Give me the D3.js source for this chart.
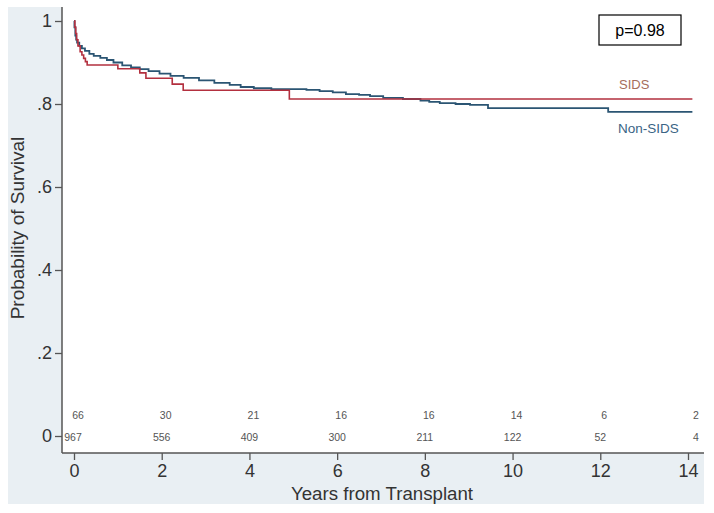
<!DOCTYPE html>
<html><head><meta charset="utf-8">
<script src="https://cdn.jsdelivr.net/npm/d3@7"></script>
<style>body{margin:0;background:#fff}svg{display:block}text{font-family:"Liberation Sans",Arial,sans-serif}</style>
</head><body><svg id="c" width="714" height="513"></svg>
<script>
// Kaplan-Meier step data (time in years, survival probability)
const nonSidsTime = [0,0.01,0.03,0.05,0.07,0.12,0.18,0.25,0.35,0.45,0.6,0.75,0.9,1.1,1.3,1.5,1.7,1.95,2.2,2.5,2.85,3.2,3.55,3.8,4.1,4.5,5.3,5.6,5.9,6.2,6.5,6.75,7.05,7.5,7.9,8.1,8.34,8.7,9.03,9.44,12.18,14.1];
const nonSidsSurv = [1,0.985,0.965,0.955,0.948,0.94,0.934,0.928,0.921,0.916,0.911,0.906,0.9,0.893,0.888,0.884,0.879,0.873,0.868,0.863,0.857,0.851,0.846,0.841,0.838,0.836,0.834,0.831,0.828,0.824,0.822,0.819,0.815,0.812,0.808,0.805,0.802,0.8,0.798,0.79,0.781,0.781];
const sidsTime = [0,0.02,0.04,0.06,0.09,0.14,0.18,0.22,0.26,0.30,1.0,1.5,1.64,2.24,2.49,4.91,14.1];
const sidsSurv = [1,0.985,0.97,0.955,0.94,0.926,0.918,0.91,0.902,0.894,0.885,0.875,0.862,0.848,0.833,0.812,0.812];
const xTicks = [0,2,4,6,8,10,12,14];
const yTicks = [0,0.2,0.4,0.6,0.8,1];
const riskTimes = [0,2,4,6,8,10,12,14];
const riskSids = [66,30,21,16,16,14,6,2];
const riskNonSids = [967,556,409,300,211,122,52,4];

const svg = d3.select("#c");
const x = d3.scaleLinear().domain([0,14]).range([74,688]);
const y = d3.scaleLinear().domain([0,1]).range([436,21]);
const pLeft = 62, pRight = 704, pTop = 7, pBottom = 453;

svg.append("rect").attr("x",8).attr("y",7).attr("width",696).attr("height",497).attr("fill","#e9eff3");
svg.append("rect").attr("x",pLeft).attr("y",pTop).attr("width",pRight-pLeft).attr("height",pBottom-pTop).attr("fill","#fff");

const fmt = d => d===0 ? "0" : d===1 ? "1" : d3.format(".1f")(d).replace(/^0/,"");
const ya = svg.append("g").attr("transform",`translate(${pLeft},0)`)
  .call(d3.axisLeft(y).tickValues(yTicks).tickFormat(fmt).tickSize(7).tickPadding(3).tickSizeOuter(0));
ya.select(".domain").attr("d",`M0,${pTop}V${pBottom}`);
const xa = svg.append("g").attr("transform",`translate(0,${pBottom})`)
  .call(d3.axisBottom(x).tickValues(xTicks).tickSize(7).tickPadding(4).tickSizeOuter(0));
xa.select(".domain").attr("d",`M${pLeft},0H${pRight}`);
[ya,xa].forEach(g=>{
  g.select(".domain").attr("stroke","#555").attr("stroke-width",1.5);
  g.selectAll(".tick line").attr("stroke","#555").attr("stroke-width",1.3);
  g.selectAll(".tick text").attr("fill","#333").style("font-size","18px").style("font-family","'Liberation Sans',Arial,sans-serif");
});

svg.append("text").attr("x",382).attr("y",500).attr("text-anchor","middle").attr("fill","#333").style("font-size","18.7px").text("Years from Transplant");
svg.append("text").attr("transform","translate(24,228) rotate(-90)").attr("text-anchor","middle").attr("fill","#333").style("font-size","19px").text("Probability of Survival");

const line = d3.line().x(d=>x(d[0])).y(d=>y(d[1])).curve(d3.curveStepAfter);
svg.append("path").datum(nonSidsTime.map((t,i)=>[t,nonSidsSurv[i]])).attr("d",line).attr("fill","none").attr("stroke","#2b5573").attr("stroke-width",1.8);
svg.append("path").datum(sidsTime.map((t,i)=>[t,sidsSurv[i]])).attr("d",line).attr("fill","none").attr("stroke","#b3303f").attr("stroke-width",1.6);

svg.append("rect").attr("x",599).attr("y",15).attr("width",82).attr("height",30).attr("fill","#fff").attr("stroke","#000").attr("stroke-width",1.2);
svg.append("text").attr("x",640).attr("y",36).attr("text-anchor","middle").attr("fill","#000").style("font-size","16px").text("p=0.98");
svg.append("text").attr("x",619).attr("y",89).attr("fill","#a56d5c").style("font-size","13px").text("SIDS");
svg.append("text").attr("x",618).attr("y",133).attr("fill","#3a6485").style("font-size","13.5px").text("Non-SIDS");

svg.append("g").selectAll("text").data(riskTimes).join("text")
  .attr("x",(d,i)=>x(d)+(i===7?8:4)).attr("y",419).attr("text-anchor","middle").attr("fill","#555").style("font-size","10.5px").text((d,i)=>riskSids[i]);
svg.append("g").selectAll("text").data(riskTimes).join("text")
  .attr("x",(d,i)=>x(d)+(i===0?-1:i===7?8:0)).attr("y",441).attr("text-anchor","middle").attr("fill","#555").style("font-size","10.5px").text((d,i)=>riskNonSids[i]);
</script></body></html>
